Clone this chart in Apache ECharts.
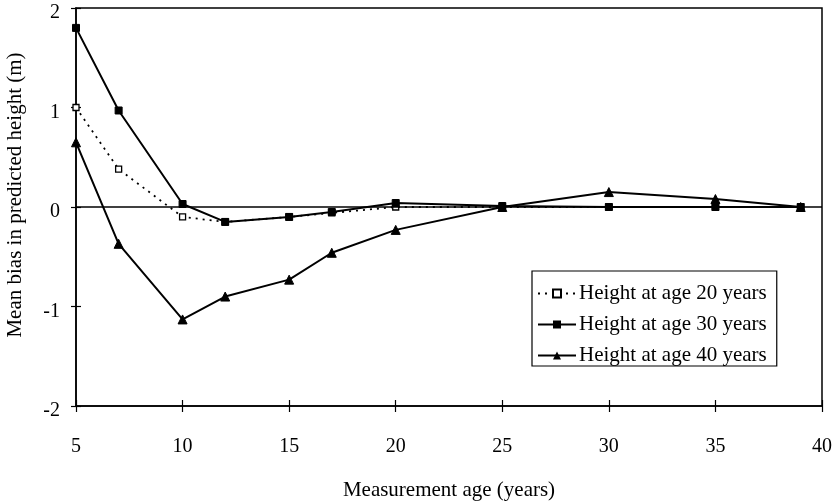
<!DOCTYPE html>
<html>
<head>
<meta charset="utf-8">
<script src="https://cdn.jsdelivr.net/npm/echarts@6/dist/echarts.min.js"></script>
<style>html,body{margin:0;padding:0;background:#fff}#c{width:836px;height:501px}</style>
</head>
<body>
<div id="c"></div>
<script>
const ages = [5, 7, 10, 12, 15, 17, 20, 25, 30, 35, 39];
const height20 = [1.00, 0.38, -0.10, -0.15, -0.10, -0.06, 0.00, 0.00, 0.00, 0.00, 0.00];
const height30 = [1.80, 0.97, 0.03, -0.15, -0.10, -0.05, 0.04, 0.01, 0.00, 0.00, 0.00];
const height40 = [0.65, -0.37, -1.13, -0.90, -0.73, -0.46, -0.23, 0.00, 0.15, 0.08, 0.00];
const seriesNames = ['Height at age 20 years', 'Height at age 30 years', 'Height at age 40 years'];
const xTitle = 'Measurement age (years)';
const yTitle = 'Mean bias in predicted height (m)';

const FONT = 'Liberation Serif';
const pairs = arr => ages.map((a, i) => [a, arr[i]]);

const chart = echarts.init(document.getElementById('c'), null, {renderer: 'canvas'});
const axisX = (idx, main) => ({
  type: 'value', min: 5, max: 40, interval: 5, gridIndex: 0, position: 'bottom',
  axisLine: {show: main, onZero: false, lineStyle: {color: '#000', width: 1.5}},
  axisTick: {show: true, inside: !main, length: 6, lineStyle: {color: '#000', width: 1.2}},
  axisLabel: {show: main, color: '#000', fontFamily: FONT, fontSize: 20, margin: 31},
  splitLine: {show: false},
  name: main ? xTitle : '', nameLocation: 'middle', nameGap: 74,
  nameTextStyle: {color: '#000', fontFamily: FONT, fontSize: 21}
});
const axisY = (idx, main) => ({
  type: 'value', min: -2, max: 2, interval: 1, gridIndex: 0, position: 'left',
  axisLine: {show: main, onZero: false, lineStyle: {color: '#000', width: 1.5}},
  axisTick: {show: true, inside: !main, length: 5, lineStyle: {color: '#000', width: 1.2}},
  axisLabel: {show: main, color: '#000', fontFamily: FONT, fontSize: 20, margin: 16,
    formatter: v => '{a|' + v + '}',
    rich: {a: {color: '#000', fontFamily: FONT, fontSize: 20, padding: [10, 0, 0, 0]}}},
  splitLine: {show: false},
  name: main ? yTitle : '', nameLocation: 'middle', nameGap: 50, nameRotate: 90,
  nameTextStyle: {color: '#000', fontFamily: FONT, fontSize: 21, padding: [0, 0, 0, 24]}
});

chart.setOption({
  animation: false,
  backgroundColor: '#fff',
  grid: {left: 76, right: 14, top: 8, bottom: 95, outerBoundsMode: 'none', containLabel: false,
    show: true, borderColor: '#000', borderWidth: 1.5, backgroundColor: 'transparent'},
  xAxis: [axisX(0, true), axisX(1, false)],
  yAxis: [axisY(0, true), axisY(1, false)],
  legend: {
    orient: 'vertical', left: 532, top: 271,
    backgroundColor: '#fff', borderColor: '#000', borderWidth: 1.2, borderRadius: 0,
    padding: [12, 10, 0, 5], itemGap: 10, itemWidth: 38, itemHeight: 10,
    textStyle: {color: '#000', fontFamily: FONT, fontSize: 21, padding: [0, 0, 0, -2]},
    data: seriesNames
  },
  series: [
    {
      name: seriesNames[0], type: 'line', data: pairs(height20),
      symbol: 'rect', symbolSize: 6,
      lineStyle: {color: '#000', width: 1.8, type: [2, 5]},
      itemStyle: {color: '#fff', borderColor: '#000', borderWidth: 1.3},
      z: 3,
      markLine: {silent: true, symbol: 'none', label: {show: false},
        lineStyle: {color: '#000', width: 1.5, type: 'solid'}, data: [{yAxis: 0}]}
    },
    {
      name: seriesNames[1], type: 'line', data: pairs(height30),
      symbol: 'rect', symbolSize: 7,
      lineStyle: {color: '#000', width: 2},
      itemStyle: {color: '#000', borderColor: '#000'},
      z: 4
    },
    {
      name: seriesNames[2], type: 'line', data: pairs(height40),
      symbol: 'triangle', symbolSize: 9,
      lineStyle: {color: '#000', width: 2},
      itemStyle: {color: '#000', borderColor: '#000'},
      z: 4
    }
  ]
});
</script>
</body>
</html>
